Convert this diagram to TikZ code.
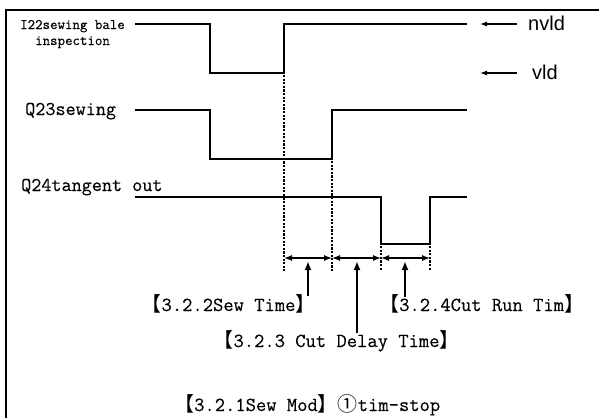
\documentclass[tikz,border=0pt]{standalone}
\usepackage{fontspec}
\setmonofont[FakeBold=0.3]{Latin Modern Mono}
\newfontfamily\cjk{Noto Sans CJK SC}
\newfontfamily\lsans{Liberation Sans}
\usetikzlibrary{arrows.meta}
\newcommand{\lb}{{\cjk 【}}
\newcommand{\rb}{{\cjk 】}}
\begin{document}
\begin{tikzpicture}[x=1pt,y=-1pt,
  sig/.style={line width=2pt, line join=miter},
  frameline/.style={line width=2.3pt},
  guide/.style={line width=1.3pt, dash pattern=on 2.2pt off 1.4pt},
  dim/.style={line width=1.3pt, {Latex[length=8pt,width=6pt]}-{Latex[length=8pt,width=6pt]}},
  ptr/.style={line width=1.8pt, -{Latex[length=9pt,width=7pt]}},
  lvl/.style={line width=1.1pt, -{Latex[length=7pt,width=5pt]}},
  big/.style={inner sep=0pt, font=\ttfamily\fontsize{19.6}{22}\selectfont},
  bot/.style={inner sep=0pt, font=\ttfamily\fontsize{20}{22}\selectfont},
  small/.style={inner sep=0pt, font=\ttfamily\fontsize{14.5}{17}\selectfont},
  sans/.style={inner sep=0pt, anchor=base west, font=\lsans\fontsize{20}{24}\selectfont}
]
\useasboundingbox (0,0) rectangle (599,418);
% frame
\draw[frameline] (6,418) -- (6,10) -- (599,10);

% signal labels
\node[small, anchor=base west] (l1a) at (20,29) {I22sewing bale};
\node[small, anchor=base west] (l1b) at (35,45) {inspection};
\node[big, anchor=base west] (l2) at (25,115) {Q23sewing};
\node[big, anchor=base west] (l3) at (21,191) {Q24tangent out};

% waveforms
\draw[sig] (135,24) -- (210,24) -- (210,73) -- (284,73) -- (284,24) -- (467,24);
\draw[sig] (135,110) -- (210,110) -- (210,159) -- (332,159) -- (332,110) -- (467,110);
\draw[sig] (135,197) -- (381,197) -- (381,244) -- (430,244) -- (430,197) -- (467,197);

% level markers
\node[sans] (nv) at (528,30) {nvld};
\node[sans] (vl) at (532,79) {vld};
\coordinate (nvs) at (517,24);
\coordinate (nve) at (480,24);
\coordinate (vls) at (517,73);
\coordinate (vle) at (480,73);
\draw[lvl] (nvs) -- (nve);
\draw[lvl] (vls) -- (vle);

% guides
\coordinate (g1t) at (284,75);  \coordinate (g1b) at (284,271);
\coordinate (g2t) at (332,161); \coordinate (g2b) at (332,271);
\coordinate (g3t) at (381,246); \coordinate (g3b) at (381,271);
\coordinate (g4t) at (430,246); \coordinate (g4b) at (430,271);
\draw[guide] (g1t) -- (g1b);
\draw[guide] (g2t) -- (g2b);
\draw[guide] (g3t) -- (g3b);
\draw[guide] (g4t) -- (g4b);

% dimension arrows
\coordinate (d1) at (284,258);
\coordinate (d2) at (332,258);
\coordinate (d3) at (381,258);
\coordinate (d4) at (430,258);
\draw[dim] (d1) -- (d2);
\draw[dim] (d2) -- (d3);
\draw[dim] (d3) -- (d4);

% labels
\node[bot, anchor=base] (t2) at (228.5,311) {\lb3.2.2Sew Time\rb};
\node[bot, anchor=base west] (t4) at (379,311) {\lb3.2.4Cut Run Tim\rb};
\node[bot, anchor=base] (t3) at (336.5,347) {\lb3.2.3 Cut Delay Time\rb};
\node[bot, anchor=base west] (t1) at (174,411) {\lb3.2.1Sew Mod\rb{\cjk ①}tim-stop};

% pointers
\coordinate (p1s) at (308,296); \coordinate (p1e) at (308,261);
\coordinate (p2s) at (357,333); \coordinate (p2e) at (357,261);
\coordinate (p3s) at (405,297); \coordinate (p3e) at (405,261);
\draw[ptr] (p1s) -- (p1e);
\draw[ptr] (p2s) -- (p2e);
\draw[ptr] (p3s) -- (p3e);
\end{tikzpicture}
\end{document}
